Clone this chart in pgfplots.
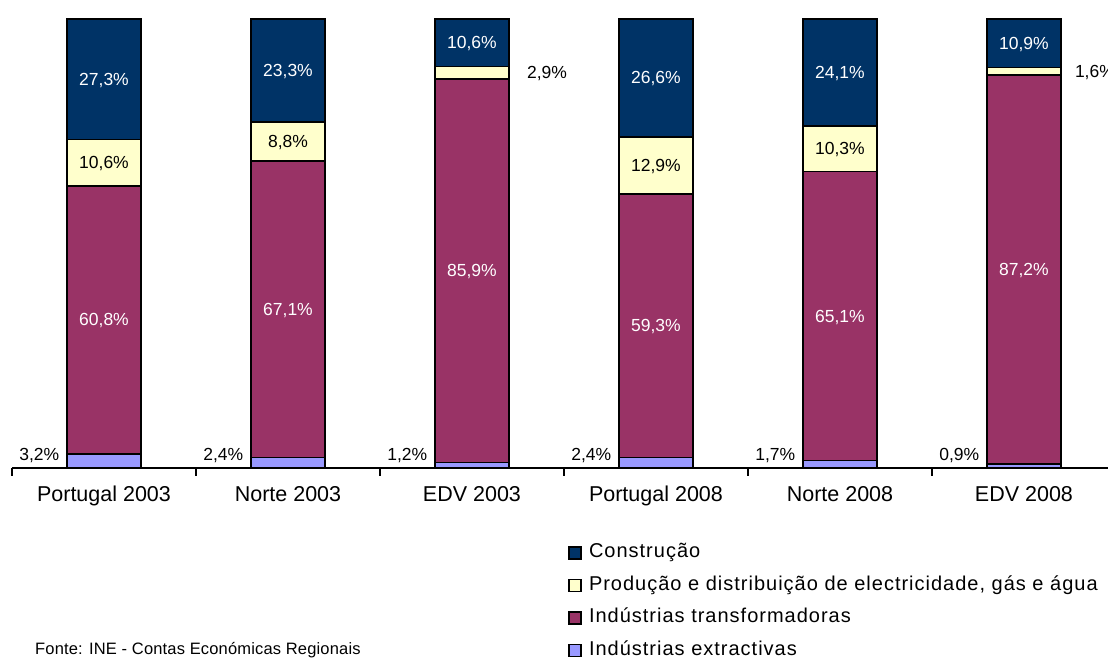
\documentclass[border=0pt]{standalone}
\usepackage{pgfplots}
\pgfplotsset{compat=1.18}
\usepackage{pgfplotstable}
\usepackage{fontspec}
\setmainfont{Liberation Sans}
\newfontfamily\wide{Liberation Sans}[LetterSpace=5]
\newfontfamily\widesrc{Liberation Sans}[LetterSpace=1]
\definecolor{ccon}{HTML}{003366}
\definecolor{cpro}{HTML}{FFFFCC}
\definecolor{ctra}{HTML}{993366}
\definecolor{cext}{HTML}{9999FF}

\pgfplotstableread{
x val lab
0 3.140 3,2
1 2.362 2,4
2 1.193 1,2
3 2.372 2,4
4 1.680 1,7
5 0.895 0,9
}\tExt
\pgfplotstableread{
x val lab
0 59.666 60,8
1 66.043 67,1
2 85.388 85,9
3 58.597 59,3
4 64.328 65,1
5 86.680 87,2
}\tTra
\pgfplotstableread{
x val lab dx
0 10.402 10,6 0
1 8.661 8,8 0
2 2.883 2,9 75
3 12.747 12,9 0
4 10.178 10,3 0
5 1.590 1,6 71
}\tPro
\pgfplotstableread{
x val lab
0 26.791 27,3
1 22.933 23,3
2 10.537 10,6
3 26.285 26,6
4 23.814 24,1
5 10.835 10,9
}\tCon

\pgfplotsset{
  mybar/.style={draw=black, line width=1.5pt, fill=#1,
    legend image code/.code={\draw[draw=black, line width=1.3pt, fill=#1] (0pt,-1.5pt) rectangle (12pt,10.5pt);}},
  lbl/.style={nodes near coords={\pgfplotspointmeta\%}, point meta=explicit symbolic,
    every node near coord/.append style={font=\fontsize{17.5}{20}\selectfont, inner sep=0pt}},
}

\begin{document}
\begin{tikzpicture}
\begin{axis}[
  at={(12pt,192pt)}, anchor=south west,
  scale only axis, width=1096pt, height=449pt,
  xmin=-0.5, xmax=5.457, ymin=0, ymax=100,
  ybar stacked, bar width=74pt,
  axis x line*=bottom, axis y line=none,
  x axis line style={-, line width=1.3pt},
  xtick={0,1,2,3,4,5},
  xticklabels={Portugal 2003, Norte 2003, EDV 2003, Portugal 2008, Norte 2008, EDV 2008},
  major tick length=0pt,
  minor xtick={-0.5,0.5,1.5,2.5,3.5,4.5},
  minor tick length=8pt, tick align=outside,
  minor tick style={line width=1.3pt, black},
  xticklabel style={font=\fontsize{21.5}{25}\selectfont, anchor=base, inner sep=0pt, yshift=-34pt},
  /pgf/number format/assume math mode=true,
  clip=false,
  reverse legend,
  legend style={at={(axis description cs:0.5073,-0.1680)}, anchor=north west,
    draw=none, fill=none, inner sep=0pt, row sep=14.5pt,
    font=\wide\fontsize{20}{23}\selectfont,
    nodes={inner sep=0pt, text height=14pt, text depth=4pt, anchor=base west},
    /tikz/every odd column/.append style={column sep=7.5pt}},
  legend cell align=left,
]
\addplot[mybar=cext, lbl,
  visualization depends on={7-2.245*\thisrow{val}\as\dy},
  every node near coord/.append style={anchor=base east, xshift=-44pt, yshift=\dy pt, text=black}]
  table[x=x, y=val, meta=lab] {\tExt};
\addlegendentry{Indústrias extractivas}
\addplot[mybar=ctra, lbl,
  every node near coord/.append style={anchor=base, yshift=-6pt, text=white}]
  table[x=x, y=val, meta=lab] {\tTra};
\addlegendentry{Indústrias transformadoras}
\addplot[mybar=cpro, lbl,
  visualization depends on={\thisrow{dx}\as\dx},
  every node near coord/.append style={anchor=base, xshift=\dx pt, yshift=-6pt, text=black}]
  table[x=x, y=val, meta=lab] {\tPro};
\addlegendentry{Produção e distribuição de electricidade, gás e água}
\addplot[mybar=ccon, lbl,
  every node near coord/.append style={anchor=base, yshift=-6pt, text=white}]
  table[x=x, y=val, meta=lab] {\tCon};
\addlegendentry{Construção}
\end{axis}
\node[anchor=base west, inner sep=0pt, font=\widesrc\fontsize{16.5}{19}\selectfont] at (35pt,5pt) {Fonte: INE - Contas Económicas Regionais};
\pgfresetboundingbox
\path[use as bounding box] (0,0) rectangle (1108pt,660pt);
\end{tikzpicture}
\end{document}
